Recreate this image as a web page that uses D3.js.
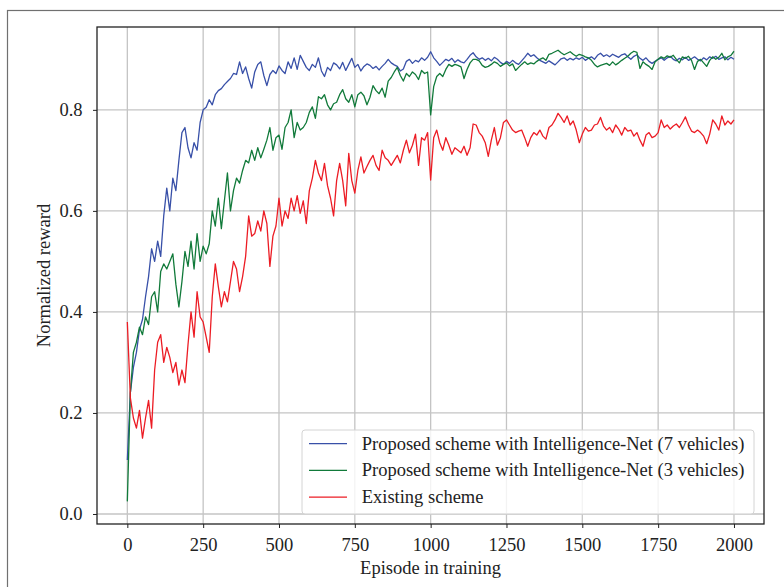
<!DOCTYPE html>
<html>
<head>
<meta charset="utf-8">
<script src="https://cdn.jsdelivr.net/npm/d3@7"></script>
<style>
  body { margin: 0; background: #fff; }
  svg text { font-family: "Liberation Serif", "DejaVu Serif", serif; fill: #222; }
</style>
</head>
<body>
<div id="graph"></div>
<script>
// episode spacing of the sampled values below
var episodeStep = 10;

var xTicks = [0, 250, 500, 750, 1000, 1250, 1500, 1750, 2000];
var yTicks = [0.0, 0.2, 0.4, 0.6, 0.8];

var seriesNames = [
    "Proposed scheme with Intelligence-Net (7 vehicles)",
    "Proposed scheme with Intelligence-Net (3 vehicles)",
    "Existing scheme"
];
var seriesColours = ["#3850a8", "#117a3a", "#ec1c24"];

// 7 vehicles, every 10 episodes from 0 to 2000
var reward7 = [
    0.107, 0.24, 0.29, 0.32, 0.365, 0.385, 0.43, 0.47, 0.525, 0.50,
    0.54, 0.51, 0.59, 0.645, 0.60, 0.665, 0.64, 0.70, 0.755, 0.765,
    0.725, 0.705, 0.735, 0.72, 0.775, 0.80, 0.805, 0.82, 0.81, 0.83,
    0.838, 0.842, 0.85, 0.856, 0.862, 0.872, 0.87, 0.895, 0.872, 0.885,
    0.862, 0.843, 0.875, 0.89, 0.895, 0.868, 0.848, 0.87, 0.878, 0.872,
    0.887, 0.878, 0.872, 0.895, 0.882, 0.903, 0.88, 0.908, 0.896, 0.884,
    0.878, 0.89, 0.884, 0.903, 0.877, 0.866, 0.884, 0.878, 0.893, 0.889,
    0.881, 0.894, 0.878, 0.89, 0.902, 0.884, 0.89, 0.877, 0.886, 0.891,
    0.888, 0.882, 0.886, 0.879, 0.886, 0.892, 0.90, 0.893, 0.889, 0.886,
    0.877, 0.881, 0.896, 0.90, 0.892, 0.898, 0.895, 0.903, 0.898, 0.904,
    0.915, 0.903, 0.896, 0.888, 0.894, 0.90, 0.897, 0.902, 0.894, 0.899,
    0.895, 0.893, 0.90, 0.908, 0.913, 0.905, 0.90, 0.903, 0.898, 0.902,
    0.897, 0.904, 0.90, 0.894, 0.89, 0.896, 0.892, 0.898, 0.893, 0.89,
    0.897, 0.904, 0.912, 0.906, 0.909, 0.903, 0.898, 0.895, 0.892, 0.897,
    0.893, 0.889, 0.895, 0.901, 0.903, 0.898, 0.902, 0.899, 0.903, 0.90,
    0.904, 0.898, 0.902, 0.905, 0.90, 0.908, 0.912, 0.906, 0.909, 0.905,
    0.91, 0.907, 0.904, 0.909, 0.911, 0.905, 0.90, 0.906, 0.909, 0.902,
    0.898, 0.903, 0.896, 0.892, 0.896, 0.90, 0.903, 0.898, 0.903, 0.906,
    0.90, 0.897, 0.902, 0.899, 0.904, 0.898, 0.901, 0.905, 0.90, 0.897,
    0.903, 0.899, 0.905, 0.902, 0.906, 0.90, 0.903, 0.905, 0.899, 0.904,
    0.90
];

// 3 vehicles
var reward3 = [
    0.025, 0.24, 0.32, 0.34, 0.37, 0.355, 0.39, 0.375, 0.43, 0.44,
    0.40, 0.48, 0.495, 0.485, 0.50, 0.515, 0.455, 0.41, 0.46, 0.52,
    0.49, 0.54, 0.485, 0.555, 0.50, 0.53, 0.515, 0.535, 0.60, 0.57,
    0.625, 0.565, 0.62, 0.675, 0.60, 0.64, 0.665, 0.655, 0.68, 0.70,
    0.695, 0.72, 0.70, 0.725, 0.705, 0.722, 0.74, 0.765, 0.72, 0.745,
    0.75, 0.722, 0.765, 0.775, 0.80, 0.745, 0.775, 0.76, 0.765, 0.775,
    0.795, 0.806, 0.783, 0.826, 0.822, 0.83, 0.81, 0.80, 0.812, 0.815,
    0.83, 0.84, 0.822, 0.815, 0.83, 0.806, 0.83, 0.835, 0.828, 0.81,
    0.825, 0.848, 0.838, 0.832, 0.843, 0.825, 0.857, 0.864, 0.875, 0.884,
    0.868, 0.857, 0.872, 0.866, 0.875, 0.87, 0.86, 0.878, 0.872, 0.875,
    0.79, 0.846, 0.866, 0.872, 0.866, 0.88, 0.89, 0.886, 0.89, 0.888,
    0.885, 0.862, 0.88, 0.893, 0.90, 0.90, 0.897, 0.888, 0.884, 0.886,
    0.89, 0.895, 0.892, 0.886, 0.89, 0.893, 0.887, 0.891, 0.878, 0.884,
    0.89, 0.895, 0.89, 0.893, 0.891, 0.896, 0.90, 0.903, 0.898, 0.91,
    0.912, 0.915, 0.918, 0.913, 0.909, 0.912, 0.915, 0.91, 0.906, 0.91,
    0.908, 0.905, 0.903, 0.898, 0.89, 0.885, 0.888, 0.89, 0.892, 0.888,
    0.895, 0.889, 0.893, 0.898, 0.902, 0.906, 0.912, 0.916, 0.914, 0.882,
    0.895, 0.89, 0.886, 0.88, 0.895, 0.90, 0.905, 0.902, 0.907, 0.904,
    0.908, 0.90, 0.893, 0.905, 0.902, 0.906, 0.898, 0.88, 0.896, 0.90,
    0.893, 0.886, 0.898, 0.905, 0.90, 0.904, 0.912, 0.899, 0.905, 0.908,
    0.916
];

// existing scheme
var rewardExisting = [
    0.38, 0.23, 0.19, 0.17, 0.205, 0.15, 0.19, 0.225, 0.17, 0.285,
    0.34, 0.355, 0.30, 0.33, 0.31, 0.28, 0.30, 0.255, 0.285, 0.26,
    0.335, 0.40, 0.35, 0.44, 0.39, 0.38, 0.35, 0.32, 0.43, 0.495,
    0.45, 0.41, 0.44, 0.42, 0.46, 0.50, 0.485, 0.44, 0.47, 0.51,
    0.59, 0.55, 0.555, 0.58, 0.56, 0.60, 0.575, 0.49, 0.55, 0.57,
    0.625, 0.57, 0.60, 0.585, 0.625, 0.60, 0.63, 0.595, 0.62, 0.575,
    0.64, 0.665, 0.70, 0.675, 0.66, 0.694, 0.65, 0.625, 0.59, 0.66,
    0.694, 0.66, 0.61, 0.714, 0.66, 0.635, 0.68, 0.707, 0.675, 0.688,
    0.70, 0.71, 0.69, 0.68, 0.72, 0.705, 0.70, 0.69, 0.70, 0.71,
    0.695, 0.72, 0.74, 0.715, 0.73, 0.752, 0.69, 0.745, 0.74, 0.755,
    0.661, 0.745, 0.76, 0.735, 0.72, 0.745, 0.73, 0.712, 0.725, 0.72,
    0.715, 0.728, 0.71, 0.725, 0.772, 0.77, 0.755, 0.748, 0.735, 0.708,
    0.74, 0.765, 0.73, 0.745, 0.775, 0.78, 0.77, 0.76, 0.755, 0.758,
    0.76, 0.745, 0.728, 0.745, 0.755, 0.75, 0.76, 0.748, 0.742, 0.765,
    0.77, 0.78, 0.793, 0.785, 0.775, 0.788, 0.77, 0.778, 0.76, 0.735,
    0.752, 0.765, 0.758, 0.76, 0.77, 0.772, 0.785, 0.768, 0.76, 0.765,
    0.755, 0.77, 0.762, 0.75, 0.765, 0.758, 0.76, 0.748, 0.755, 0.74,
    0.728, 0.75, 0.755, 0.745, 0.748, 0.755, 0.78, 0.765, 0.77, 0.762,
    0.768, 0.772, 0.765, 0.775, 0.786, 0.77, 0.758, 0.755, 0.76, 0.755,
    0.748, 0.733, 0.752, 0.78, 0.772, 0.76, 0.788, 0.77, 0.778, 0.772,
    0.78
];

var allSeries = [reward7, reward3, rewardExisting];

var fontSize = '18.5px';

var W = 784, H = 587;
var margin = {top: 27, right: 20, bottom: 63, left: 97};
var width = W - margin.left - margin.right,
    height = H - margin.top - margin.bottom;

var svg = d3.select('#graph')
    .append('svg')
    .attr('width', W)
    .attr('height', H);

// outer figure frame
svg.append('rect')
    .attr('x', 7.5).attr('y', 10.5)
    .attr('width', 820).attr('height', 620)
    .style('fill', 'none')
    .style('stroke', '#707070')
    .style('stroke-width', 1.2);

var g = svg.append('g')
    .attr('transform', 'translate(' + margin.left + ',' + margin.top + ')');

var x = d3.scaleLinear()
    .domain([-100, 2099])
    .range([0, width]);

var y = d3.scaleLinear()
    .domain([-0.0198, 0.964])
    .range([height, 0]);

// grid
g.append('g')
    .selectAll('line')
    .data(xTicks)
    .enter().append('line')
    .attr('x1', function(d){ return x(d); })
    .attr('x2', function(d){ return x(d); })
    .attr('y1', 0).attr('y2', height)
    .style('stroke', '#c4c4c4')
    .style('stroke-width', 1.3);

g.append('g')
    .selectAll('line')
    .data(yTicks)
    .enter().append('line')
    .attr('y1', function(d){ return y(d); })
    .attr('y2', function(d){ return y(d); })
    .attr('x1', 0).attr('x2', width)
    .style('stroke', '#c4c4c4')
    .style('stroke-width', 1.3);

// lines
var line = d3.line()
    .x(function(d, i){ return x(i * episodeStep); })
    .y(function(d){ return y(d); });

g.append('g')
    .selectAll('path')
    .data(allSeries)
    .enter().append('path')
    .attr('d', line)
    .style('fill', 'none')
    .style('stroke', function(d, i){ return seriesColours[i]; })
    .style('stroke-width', 1.3)
    .style('stroke-linejoin', 'round');

// axes
var xAxis = d3.axisBottom(x)
    .tickValues(xTicks)
    .tickSize(4)
    .tickPadding(10)
    .tickFormat(d3.format('d'));

var xGuide = g.append('g')
    .attr('transform', 'translate(0,' + height + ')')
    .call(xAxis);

var yAxis = d3.axisLeft(y)
    .tickValues(yTicks)
    .tickSize(4)
    .tickPadding(10.5)
    .tickFormat(d3.format('.1f'));

var yGuide = g.append('g')
    .call(yAxis);

[xGuide, yGuide].forEach(function(ax){
    ax.select('.domain').remove();
    ax.selectAll('line').style('stroke', '#222').style('stroke-width', 1);
    ax.selectAll('text')
        .style('font-size', fontSize)
        .style('font-family', '"Liberation Serif", serif')
        .style('fill', '#222');
});

// frame of the axes
g.append('rect')
    .attr('x', 0).attr('y', 0)
    .attr('width', width).attr('height', height)
    .style('fill', 'none')
    .style('stroke', '#222')
    .style('stroke-width', 1.3);

// axis labels
svg.append('text')
    .attr('text-anchor', 'middle')
    .attr('x', margin.left + width / 2)
    .attr('y', 574)
    .style('font-size', fontSize)
    .text('Episode in training');

svg.append('text')
    .attr('text-anchor', 'middle')
    .attr('transform', 'translate(50,' + (margin.top + height / 2) + ') rotate(-90)')
    .style('font-size', fontSize)
    .text('Normalized reward');

// legend
var legend = g.append('g')
    .attr('transform', 'translate(' + (302 - margin.left) + ',' + (430 - margin.top) + ')');

legend.append('rect')
    .attr('width', 452)
    .attr('height', 84)
    .attr('rx', 3)
    .style('fill', 'white')
    .style('fill-opacity', 0.8)
    .style('stroke', '#d4d4d4')
    .style('stroke-width', 1);

var items = legend.selectAll('.item')
    .data(seriesNames)
    .enter().append('g')
    .attr('class', 'item')
    .attr('transform', function(d, i){ return 'translate(0,' + (13.7 + i * 26.7) + ')'; });

items.append('line')
    .attr('x1', 7).attr('x2', 45)
    .style('stroke', function(d, i){ return seriesColours[i]; })
    .style('stroke-width', 1.3);

items.append('text')
    .attr('x', 59.7)
    .attr('y', 6)
    .style('font-size', fontSize)
    .text(function(d){ return d; });
</script>
</body>
</html>
